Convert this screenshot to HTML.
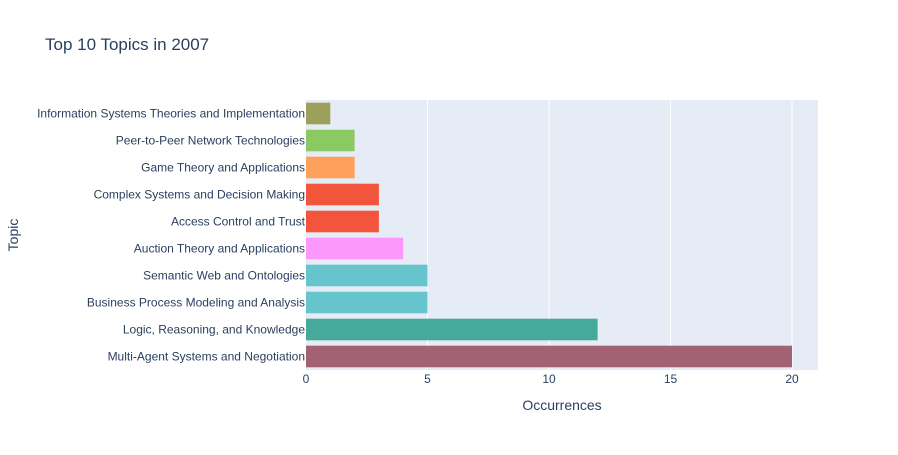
<!DOCTYPE html>
<html><head><meta charset="utf-8"><style>
body{margin:0;background:#fff;font-family:"Liberation Sans",sans-serif}
svg text{font-family:"Liberation Sans",sans-serif;fill:#2a3f5f}
</style></head><body>
<svg id="chart" width="898" height="450">
<text x="45" y="50" font-size="17">Top 10 Topics in 2007</text>
<rect x="306" y="100" width="512" height="270" fill="#e5ecf6"/>
<g id="grid"></g><g id="bars"></g><g id="ylabels"></g><g id="xticks"></g>
<text x="562" y="410" font-size="14" text-anchor="middle">Occurrences</text>
<text x="18" y="235" font-size="14" text-anchor="middle" transform="rotate(-90 18 235)">Topic</text>
</svg>
<script>
const categories=["Multi-Agent Systems and Negotiation","Logic, Reasoning, and Knowledge","Business Process Modeling and Analysis","Semantic Web and Ontologies","Auction Theory and Applications","Access Control and Trust","Complex Systems and Decision Making","Game Theory and Applications","Peer-to-Peer Network Technologies","Information Systems Theories and Implementation"];
const values=[20,12,5,5,4,3,3,2,2,1];
const colors=["#a26274","#45aa99","#66c5cc","#66c5cc","#fe97fc","#f2553c","#f2553c","#ffa15a","#8bc962","#9ca05a"];
const xTicks=[0,5,10,15,20];
const NS="http://www.w3.org/2000/svg";
const x0=306,x1=818,xMax=21.07,yTop=100,yBot=370;
const xs=v=>x0+v/xMax*(x1-x0);
const band=(yBot-yTop)/categories.length;
const yc=i=>yBot-band*(i+0.5);
function mk(t,a,p){const e=document.createElementNS(NS,t);for(const k in a)e.setAttribute(k,a[k]);document.getElementById(p).appendChild(e);return e;}
xTicks.forEach(t=>{
 if(t>0){const g=mk("line",{x1:xs(t),x2:xs(t),y1:yTop,y2:yBot,stroke:"#fff","stroke-width":1},"grid");
 
 }
 const l=mk("text",{x:xs(t),y:383,"font-size":12,"text-anchor":"middle"},"xticks");l.textContent=t;
 
 
});
const bw=band*0.8;
categories.forEach((c,i)=>{
 const r=mk("rect",{x:x0,y:yc(i)-bw/2,width:xs(values[i])-x0,height:bw,fill:colors[i]},"bars");
 
 
 const t=mk("text",{x:305,y:yc(i)+4,"font-size":12,"text-anchor":"end"},"ylabels");t.textContent=c;
 
 
});
</script>
</body></html>
